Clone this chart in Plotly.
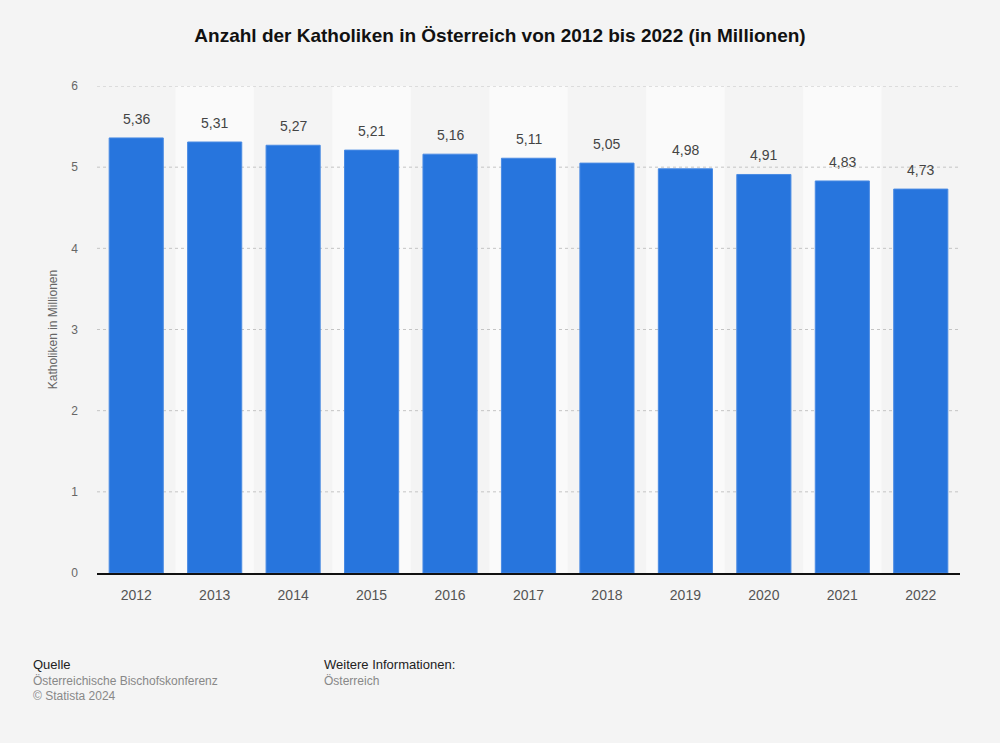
import plotly.graph_objects as go

years = ["2012", "2013", "2014", "2015", "2016", "2017", "2018", "2019", "2020", "2021", "2022"]
katholiken = [5.36, 5.31, 5.27, 5.21, 5.16, 5.11, 5.05, 4.98, 4.91, 4.83, 4.73]
y_ticks = [0, 1, 2, 3, 4, 5, 6]

FONT = "Liberation Sans, Arial, Helvetica, sans-serif"
xpos = list(range(len(years)))

fig = go.Figure()
fig.add_trace(go.Bar(
    x=xpos, y=katholiken,
    marker=dict(color="#2775dd", line=dict(color="#4a8be3", width=1)),
    width=0.69,
    customdata=years,
    hovertemplate="%{customdata}: %{y}<extra></extra>",
))

# alternating light column bands
for i in range(1, len(years), 2):
    fig.add_shape(
        type="rect", xref="x", yref="paper", x0=i - 0.5, x1=i + 0.5, y0=0, y1=1,
        fillcolor="#fafafa", line=dict(width=0), layer="below",
    )

# dotted gridlines drawn over the bands, under the bars
for t in y_ticks[1:]:
    fig.add_shape(
        type="line", xref="paper", yref="y", x0=0, x1=1, y0=t, y1=t,
        line=dict(color="#c4c4c4", width=1, dash="dot"), layer="below",
    )

# value labels above bars
for i, v in zip(xpos, katholiken):
    fig.add_annotation(
        x=i, y=v, text=f"{v:.2f}".replace(".", ","), showarrow=False,
        yanchor="bottom", yshift=9,
        font=dict(family=FONT, size=14, color="#444"),
    )

# footer
fig.add_annotation(
    xref="paper", yref="paper", x=-0.0765, y=-0.168, xanchor="left", yanchor="top",
    text="<span style='color:#222;font-size:13px'>Quelle</span><br>"
         "Österreichische Bischofskonferenz<br>"
         "© Statista 2024",
    align="left", showarrow=False, font=dict(family=FONT, size=12, color="#888"),
)
fig.add_annotation(
    xref="paper", yref="paper", x=0.2608, y=-0.168, xanchor="left", yanchor="top",
    text="<span style='color:#222;font-size:13px'>Weitere Informationen:</span><br>"
         "Österreich",
    align="left", showarrow=False, font=dict(family=FONT, size=12, color="#888"),
)

fig.update_layout(
    width=1000, height=743,
    paper_bgcolor="#f4f4f4", plot_bgcolor="#f4f4f4",
    margin=dict(l=97, r=40, t=86, b=170),
    title=dict(
        text="<b>Anzahl der Katholiken in Österreich von 2012 bis 2022 (in Millionen)</b>",
        x=0.5, xanchor="center", y=0.953, yanchor="middle",
        font=dict(family=FONT, size=19, color="#111"),
    ),
    showlegend=False,
    xaxis=dict(
        range=[-0.5, len(years) - 0.5], tickvals=xpos, ticktext=years,
        showgrid=False, zeroline=False, showline=True, linecolor="#111", linewidth=1.5,
        tickfont=dict(family=FONT, size=14, color="#555"), ticks="", ticklabelstandoff=8,
    ),
    yaxis=dict(
        range=[0, 6], tickvals=y_ticks, showgrid=False,
        zeroline=False, showline=False, ticks="", ticklabelstandoff=18,
        tickfont=dict(family=FONT, size=12, color="#666"),
        title=dict(text="Katholiken in Millionen", font=dict(family=FONT, size=12, color="#666"), standoff=11),
    ),
)

fig.write_html("out.html", config={"displayModeBar": False},
               post_script="document.body.style.margin='0';")
